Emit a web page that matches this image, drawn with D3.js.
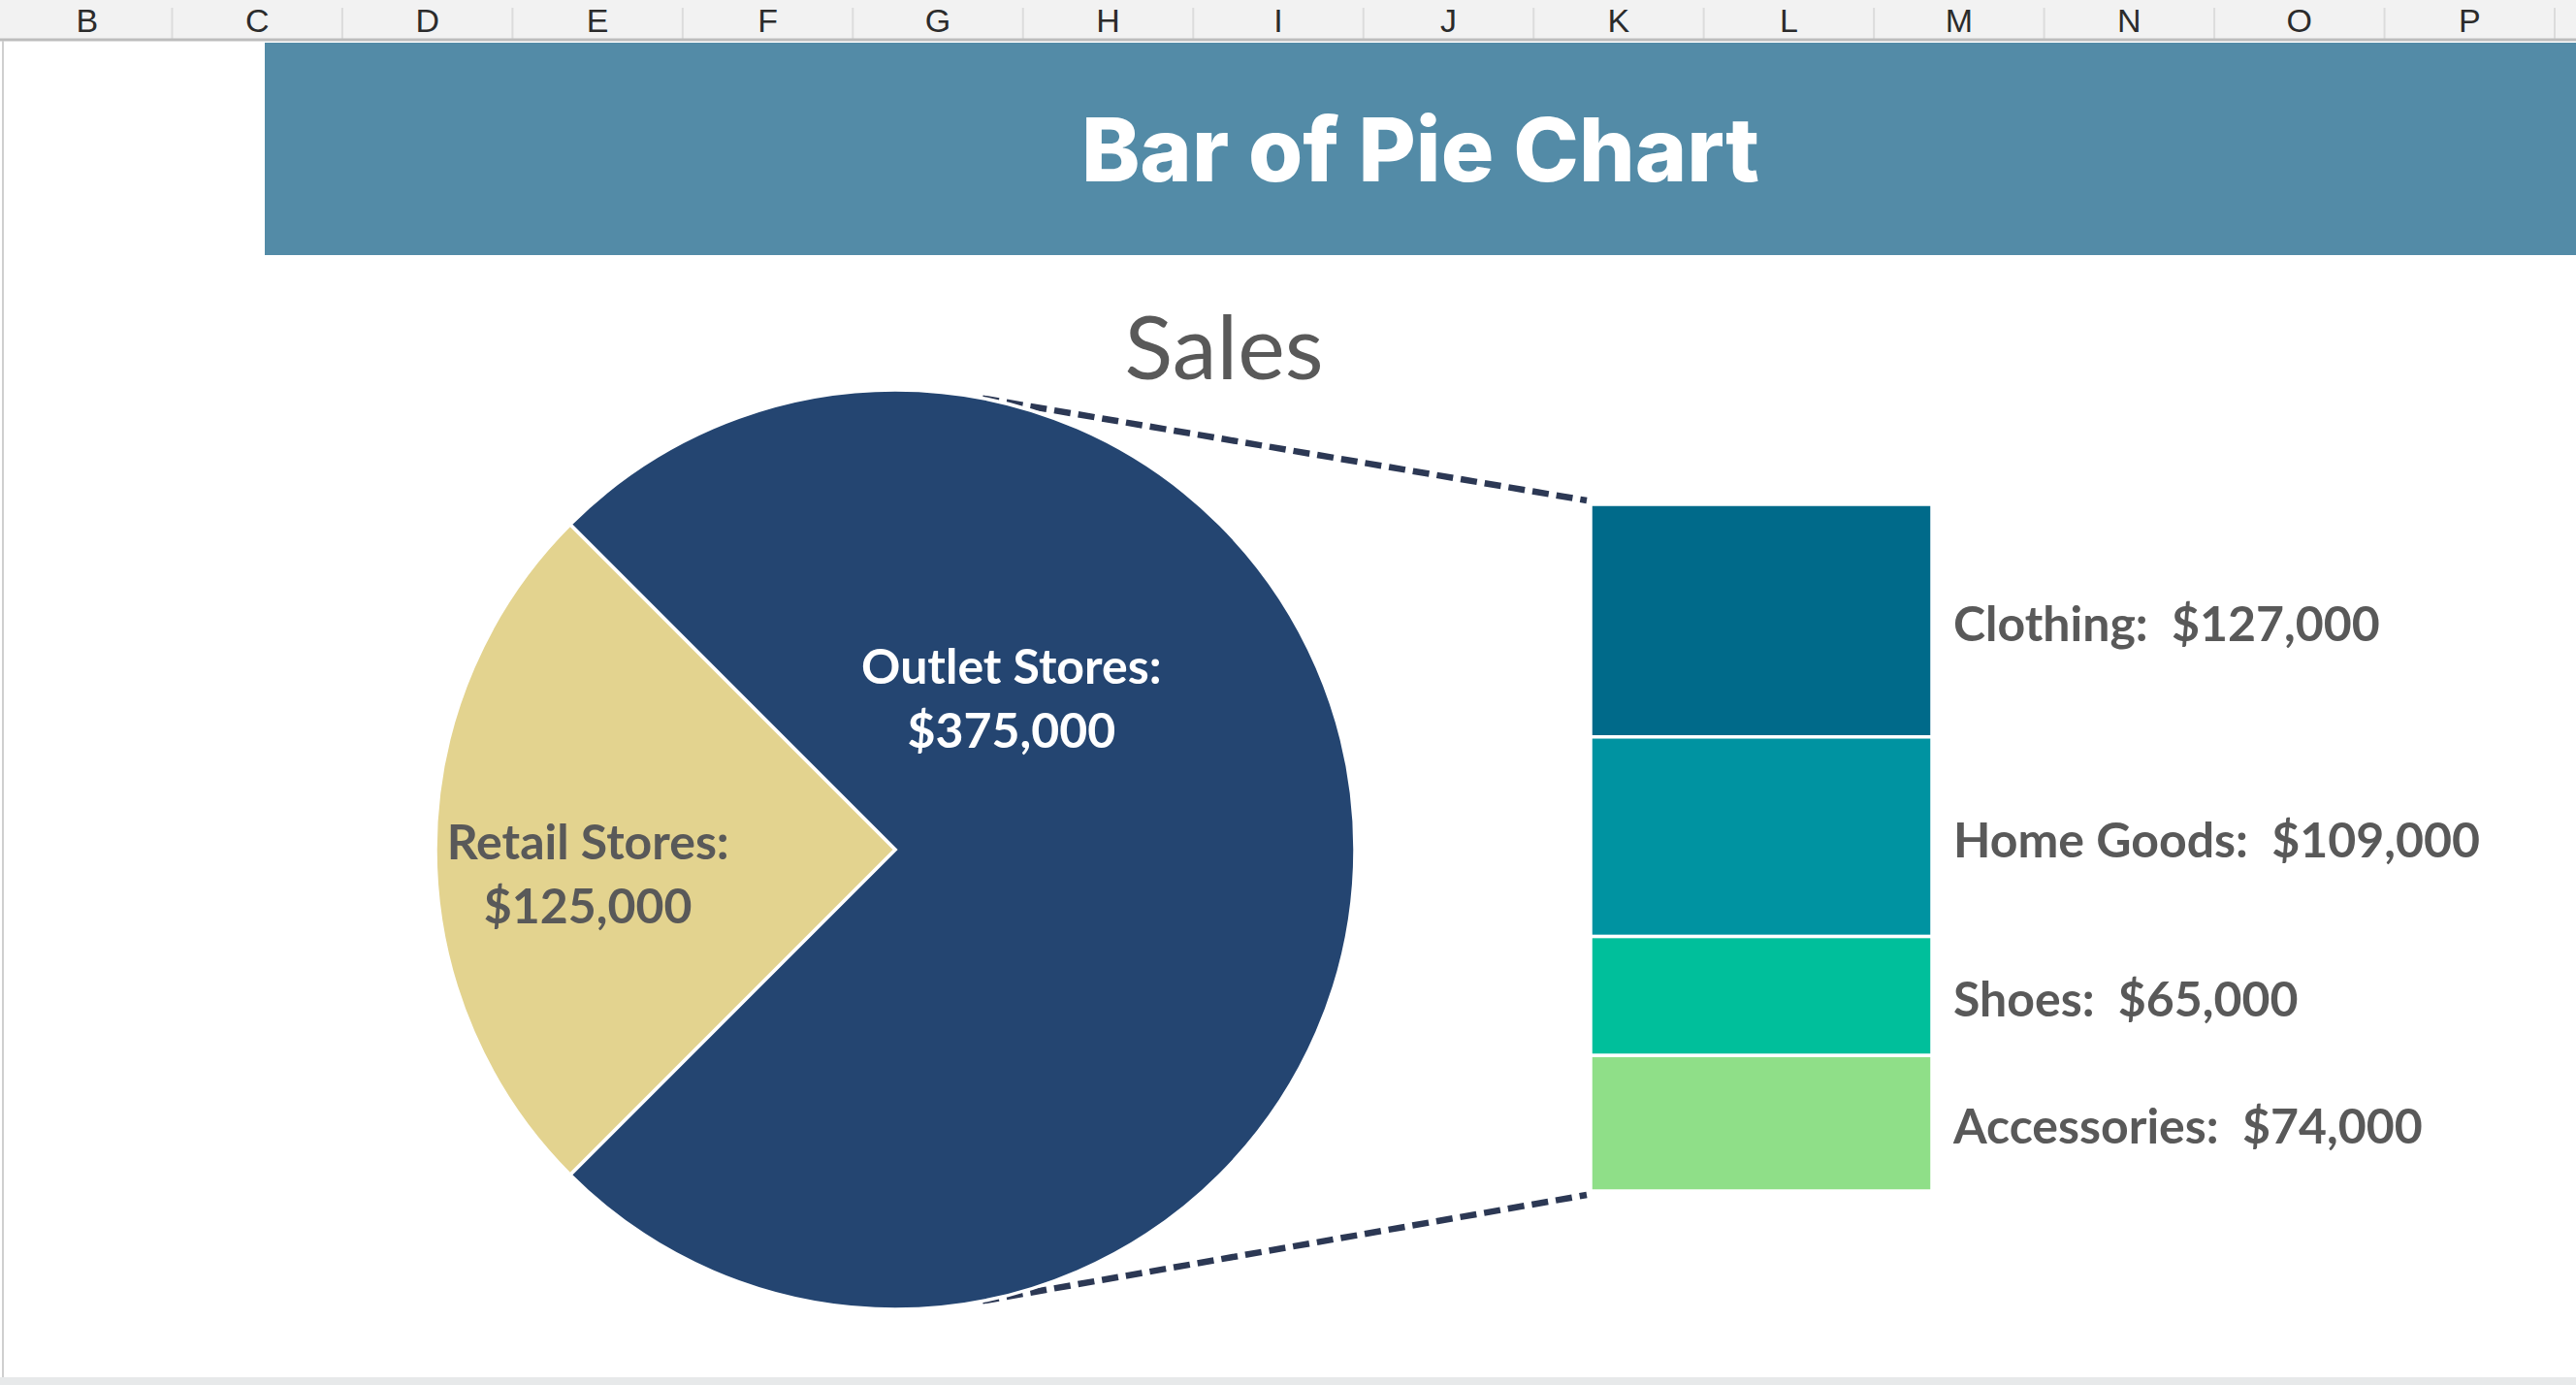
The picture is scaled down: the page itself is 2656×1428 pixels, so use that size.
<!DOCTYPE html>
<html>
<head>
<meta charset="utf-8">
<script src="https://cdn.jsdelivr.net/npm/d3@7"></script>
<style>
  html, body { margin: 0; padding: 0; background: #ffffff; }
  svg { display: block; }
</style>
</head>
<body>
<div id="sheet"></div>
<script>
/* DATA */

// spreadsheet column letters across the top
const columnLetters = ["B", "C", "D", "E", "F", "G", "H", "I", "J", "K", "L", "M", "N", "O", "P"];

// pie: outlet stores get split out into the bar
const pieCategories = ["Outlet Stores", "Retail Stores"];
const pieValues = [375000, 125000];
const pieColors = ["#244571", "#e3d38f"];
const pieLabelColors = ["#ffffff", "#595959"];

// bar: breakdown of outlet stores
const barCategories = ["Clothing", "Home Goods", "Shoes", "Accessories"];
const barValues = [127000, 109000, 65000, 74000];
const barColors = ["#006a8a", "#0093a1", "#00bf9b", "#8fdf88"];

const chartTitle = "Bar of Pie Chart";
const chartSubtitle = "Sales";

/* LAYOUT */

const width = 2656, height = 1428;
const money = d3.format("$,");
const labelFont = "Lato, 'Open Sans', sans-serif";

const svg = d3.select("#sheet").append("svg")
    .attr("width", width)
    .attr("height", height);

// spreadsheet chrome: column header strip
const colScale = d3.scaleBand()
    .domain(columnLetters)
    .range([2, 2634]);

svg.append("rect")
    .attr("x", 0).attr("y", 0)
    .attr("width", width).attr("height", 41)
    .attr("fill", "#f2f2f2");

svg.append("g").selectAll("line")
    .data(columnLetters)
    .enter()
    .append("line")
        .attr("x1", d => colScale(d) + colScale.bandwidth())
        .attr("x2", d => colScale(d) + colScale.bandwidth())
        .attr("y1", 8).attr("y2", 41)
        .attr("stroke", "#dcdcdc")
        .attr("stroke-width", 2);

svg.append("g").selectAll("text")
    .data(columnLetters)
    .enter()
    .append("text")
        .attr("x", d => colScale(d) + colScale.bandwidth() / 2)
        .attr("y", 33)
        .attr("text-anchor", "middle")
        .attr("font-family", "'Liberation Sans', Arial, sans-serif")
        .attr("font-size", 34)
        .attr("fill", "#2b2b2b")
        .text(d => d);

svg.append("line")
    .attr("x1", 0).attr("x2", width)
    .attr("y1", 41).attr("y2", 41)
    .attr("stroke", "#bdbdbd")
    .attr("stroke-width", 3);

// left sheet edge and bottom strip
svg.append("line")
    .attr("x1", 3).attr("x2", 3)
    .attr("y1", 42).attr("y2", 1420)
    .attr("stroke", "#cfcfcf")
    .attr("stroke-width", 2);

svg.append("rect")
    .attr("x", 0).attr("y", 1420)
    .attr("width", width).attr("height", height - 1420)
    .attr("fill", "#e7e9ea");

// title band
svg.append("rect")
    .attr("x", 273).attr("y", 44)
    .attr("width", width - 273).attr("height", 219)
    .attr("fill", "#538ba7");

svg.append("text")
    .attr("x", (273 + width) / 2)
    .attr("y", 187)
    .attr("text-anchor", "middle")
    .attr("font-family", "Inter, 'Open Sans', sans-serif")
    .attr("font-weight", 800)
    .attr("font-size", 91)
    .attr("fill", "#ffffff")
    .text(chartTitle);

// chart subtitle
svg.append("text")
    .attr("x", 1262)
    .attr("y", 391)
    .attr("text-anchor", "middle")
    .attr("font-family", labelFont)
    .attr("font-size", 92)
    .attr("fill", "#595959")
    .text(chartSubtitle);

/* PIE */

const cx = 923, cy = 876, radius = 474;
const pieData = pieCategories.map((c, i) => ({ category: c, value: pieValues[i], color: pieColors[i], labelColor: pieLabelColors[i] }));

// outlet slice starts at -45deg so the retail slice sits centred on the left
const pie = d3.pie()
    .sort(null)
    .value(d => d.value)
    .startAngle(-Math.PI / 4)
    .endAngle(2 * Math.PI - Math.PI / 4);

const arc = d3.arc().innerRadius(0).outerRadius(radius);
const arcs = pie(pieData);

// connector lines from pie edge to bar corners
const barX = 1640, barW = 352, barTop = 520, barBottom = 1228;
const tangentAngle = Math.asin(0.19);
const polar = (a, r) => [cx + r * Math.sin(a), cy - r * Math.cos(a)];
const connectors = [
    [polar(tangentAngle, radius), [barX - 4, barTop - 4]],
    [polar(Math.PI - tangentAngle, radius), [barX - 4, barBottom + 4]]
];

svg.append("g").selectAll("line")
    .data(connectors)
    .enter()
    .append("line")
        .attr("x1", d => d[0][0]).attr("y1", d => d[0][1])
        .attr("x2", d => d[1][0]).attr("y2", d => d[1][1])
        .attr("stroke", "#2c3854")
        .attr("stroke-width", 6.5)
        .attr("stroke-dasharray", "17 8");

const pieGroup = svg.append("g")
    .attr("transform", `translate(${cx},${cy})`);

pieGroup.selectAll("path")
    .data(arcs)
    .enter()
    .append("path")
        .attr("d", arc)
        .attr("fill", d => d.data.color)
        .attr("stroke", "#ffffff")
        .attr("stroke-width", 3.5);

// label spots: angle from 12 o'clock (clockwise) and fraction of radius
const pieLabelSpots = [[37 * Math.PI / 180, 0.42], [266 * Math.PI / 180, 0.67]];

const pieLabels = pieGroup.selectAll("text")
    .data(arcs)
    .enter()
    .append("text")
        .attr("transform", (d, i) => {
            let [a, f] = pieLabelSpots[i];
            return `translate(${radius * f * Math.sin(a)},${-radius * f * Math.cos(a)})`;
        })
        .attr("text-anchor", "middle")
        .attr("font-family", labelFont)
        .attr("font-weight", 700)
        .attr("font-size", 50)
        .attr("fill", d => d.data.labelColor);

pieLabels.append("tspan")
    .attr("x", 0)
    .attr("y", -12)
    .text(d => d.data.category + ":");

pieLabels.append("tspan")
    .attr("x", 0)
    .attr("y", 54)
    .text(d => money(d.value));

/* BAR */

const barData = [];
let running = 0;
barCategories.forEach((c, i) => {
    barData.push({ category: c, value: barValues[i], start: running, end: running + barValues[i], color: barColors[i] });
    running += barValues[i];
});

const yBar = d3.scaleLinear()
    .domain([0, d3.sum(barValues)])
    .range([barTop, barBottom]);

const barGroup = svg.append("g");

barGroup.selectAll("rect")
    .data(barData)
    .enter()
    .append("rect")
        .attr("x", barX)
        .attr("y", d => yBar(d.start))
        .attr("width", barW)
        .attr("height", d => yBar(d.end) - yBar(d.start))
        .attr("fill", d => d.color)
        .attr("stroke", "#ffffff")
        .attr("stroke-width", 3.5);

barGroup.selectAll("text")
    .data(barData)
    .enter()
    .append("text")
        .attr("x", barX + barW + 22)
        .attr("y", d => (yBar(d.start) + yBar(d.end)) / 2 + 21)
        .attr("font-family", labelFont)
        .attr("font-weight", 700)
        .attr("font-size", 50)
        .attr("fill", "#595959")
        .text(d => d.category + ":\u00a0\u00a0" + money(d.value));
</script>
</body>
</html>
